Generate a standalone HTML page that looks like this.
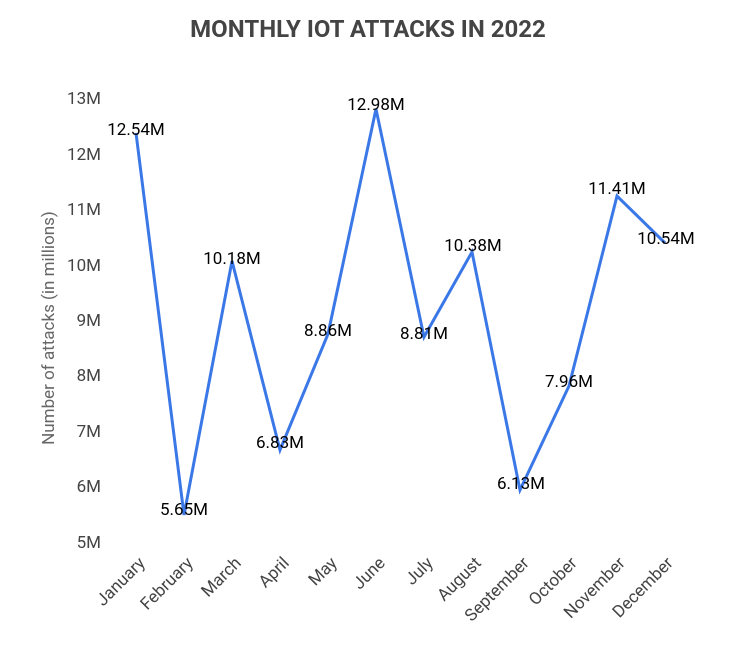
<!DOCTYPE html>
<html><head><style>body{margin:0;background:#fff}</style></head><body>
<svg width="735" height="650" xmlns="http://www.w3.org/2000/svg" font-family="Roboto, 'Liberation Sans', sans-serif">
<rect width="735" height="650" fill="#fff"/>
<text x="368" y="37" text-anchor="middle" font-size="24" font-weight="bold" fill="#444">MONTHLY IOT ATTACKS IN 2022</text>
<text transform="translate(54,328) rotate(-90)" text-anchor="middle" font-size="17" fill="#666">Number of attacks (in millions)</text>
<g font-size="17" fill="#444" text-anchor="end">
<text x="101" y="104">13M</text><text x="101" y="160">12M</text><text x="101" y="215">11M</text><text x="101" y="271">10M</text><text x="101" y="326">9M</text><text x="101" y="381">8M</text><text x="101" y="437">7M</text><text x="101" y="492">6M</text><text x="101" y="548">5M</text>
</g>
<polyline fill="none" stroke="#3b78e7" stroke-width="3" stroke-linejoin="miter" points="136,133 184,515 232,261 280,450 328,334 376,109 424,337 472,252 520,490 569,386 617,196 665,243"/>
<g font-size="17" fill="#000" text-anchor="middle">
<text x="136" y="135">12.54M</text><text x="184" y="515">5.65M</text><text x="232" y="264">10.18M</text><text x="280" y="448">6.83M</text><text x="328" y="336">8.86M</text><text x="376" y="110">12.98M</text><text x="424" y="339">8.81M</text><text x="473" y="251">10.38M</text><text x="521" y="489">6.13M</text><text x="569" y="387">7.96M</text><text x="617" y="194">11.41M</text><text x="666" y="244">10.54M</text>
</g>
<g font-size="17" fill="#444" text-anchor="end">
<text transform="translate(146,564) rotate(-45)">January</text>
<text transform="translate(194,564) rotate(-45)">February</text>
<text transform="translate(242,564) rotate(-45)">March</text>
<text transform="translate(290,564) rotate(-45)">April</text>
<text transform="translate(338,564) rotate(-45)">May</text>
<text transform="translate(386,564) rotate(-45)">June</text>
<text transform="translate(434,564) rotate(-45)">July</text>
<text transform="translate(482,564) rotate(-45)">August</text>
<text transform="translate(530,564) rotate(-45)">September</text>
<text transform="translate(578,564) rotate(-45)">October</text>
<text transform="translate(626,564) rotate(-45)">November</text>
<text transform="translate(674,564) rotate(-45)">December</text>
</g>
</svg>
</body></html>
